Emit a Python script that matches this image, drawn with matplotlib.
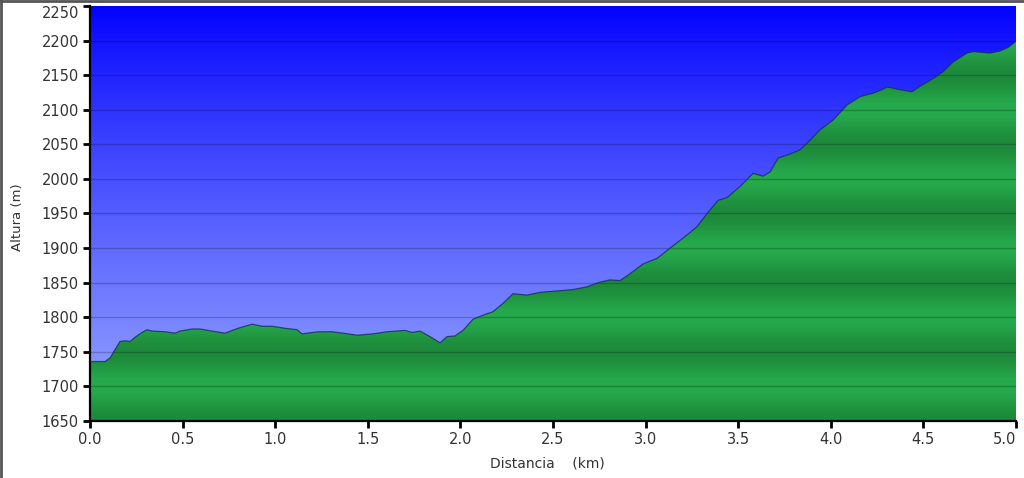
import numpy as np
import matplotlib
matplotlib.use("Agg")
import matplotlib.pyplot as plt
from matplotlib.lines import Line2D

# elevation profile
dist_km = [0.00, 0.081, 0.108, 0.135, 0.162, 0.189, 0.216, 0.243, 0.281, 0.308,
           0.335, 0.405, 0.459, 0.486, 0.551, 0.594, 0.659, 0.729, 0.799, 0.875,
           0.929, 0.983, 1.053, 1.118, 1.145, 1.231, 1.307, 1.366, 1.442, 1.528,
           1.604, 1.701, 1.739, 1.782, 1.836, 1.890, 1.928, 1.971, 2.014, 2.068,
           2.122, 2.176, 2.230, 2.284, 2.360, 2.430, 2.522, 2.608, 2.684, 2.743,
           2.808, 2.862, 2.916, 2.986, 3.062, 3.132, 3.224, 3.278, 3.332, 3.391,
           3.440, 3.510, 3.580, 3.634, 3.672, 3.715, 3.780, 3.834, 3.888, 3.942,
           4.012, 4.088, 4.158, 4.228, 4.276, 4.304, 4.374, 4.438, 4.482, 4.552,
           4.606, 4.660, 4.736, 4.768, 4.860, 4.914, 4.957, 5.00]
alt_m = [1736, 1736, 1741, 1753, 1765, 1766, 1765, 1771, 1778, 1782,
         1780, 1779, 1777, 1780, 1783, 1783, 1780, 1777, 1784, 1790,
         1787, 1787, 1784, 1782, 1776, 1779, 1779, 1777, 1774, 1776,
         1779, 1781, 1778, 1780, 1772, 1763, 1772, 1773, 1781, 1797,
         1803, 1808, 1820, 1834, 1832, 1836, 1838, 1840, 1844, 1850,
         1854, 1853, 1863, 1877, 1885, 1900, 1919, 1931, 1950, 1969,
         1973, 1989, 2008, 2004, 2010, 2030, 2036, 2042, 2056, 2071,
         2085, 2107, 2119, 2124, 2129, 2133, 2129, 2126, 2134, 2145,
         2155, 2169, 2182, 2184, 2182, 2185, 2190, 2199]

x_ticks = [0.0, 0.5, 1.0, 1.5, 2.0, 2.5, 3.0, 3.5, 4.0, 4.5, 5.0]
y_ticks = list(range(1650, 2251, 50))

xmin, xmax = 0.0, 5.0
ymin, ymax = 1650, 2250

fig = plt.figure(figsize=(10.24, 4.78), dpi=100)
ax = fig.add_axes([90 / 1024, 57 / 478, 926 / 1024, 415 / 478])

# blue sky gradient
ny = 400
t = np.linspace(0, 1, ny)[:, None]  # 0 top, 1 bottom
top = np.array([0, 0, 255]) / 255
bot = np.array([152, 168, 255]) / 255
sky = top + (bot - top) * t[..., None] ** 0.85
sky = np.repeat(sky, 2, axis=1)
ax.imshow(sky, extent=[xmin, xmax, ymin, ymax], aspect="auto", zorder=0)

# green banded fill, darker at x50 lines, lighter at x00 lines
hh = np.linspace(ymax, ymin, 1200)
m = (hh - 1650) % 100
light = 0.5 - 0.5 * np.cos(np.pi * m / 50)
dark_c = np.array([29, 138, 59]) / 255
light_c = np.array([38, 170, 76]) / 255
green = dark_c + (light_c - dark_c) * light[:, None]
green = np.repeat(green[:, None, :], 2, axis=1)
poly = ax.fill_between(dist_km, alt_m, ymin, color="none", zorder=1)
im = ax.imshow(green, extent=[xmin, xmax, ymin, ymax], aspect="auto", zorder=1)
im.set_clip_path(poly.get_paths()[0], transform=ax.transData)
ax.plot(dist_km, alt_m, color="#1c2a66", lw=0.9, alpha=0.8, zorder=3)

for y in y_ticks[1:-1]:
    ax.axhline(y, color="black", alpha=0.22, lw=1.0, zorder=2)

ax.set_xlim(xmin, xmax)
ax.set_ylim(ymin, ymax)
ax.set_xticks(x_ticks)
ax.set_xticklabels([f"{v:.1f}" for v in x_ticks])
ax.set_yticks(y_ticks)

for s in ["top", "right"]:
    ax.spines[s].set_visible(False)
for s in ["left", "bottom"]:
    ax.spines[s].set_color("black")
    ax.spines[s].set_linewidth(1.6)

ax.tick_params(axis="both", direction="out", length=5, width=2, color="black",
               labelcolor="#333333", labelsize=10.5)
ax.tick_params(axis="x", pad=3)
ax.tick_params(axis="y", pad=3)

# keep end labels inside the picture
ax.get_yticklabels()[-1].set_va("top")
ax.get_xticklabels()[-1].set_ha("right")

ax.set_xlabel("Distancia    (km)", fontsize=10, color="#333333")
ax.xaxis.set_label_coords(0.4935, -0.085)
ax.set_ylabel("Altura (m)", fontsize=9.5, color="#333333")
ax.yaxis.set_label_coords(-0.071, 0.49)

# outer frame of the screenshot
fig.add_artist(Line2D([0.001, 0.001], [0, 1], transform=fig.transFigure, color="#555555", lw=2))
fig.add_artist(Line2D([0, 1], [0.998, 0.998], transform=fig.transFigure, color="#555555", lw=2))

fig.savefig("out.png", dpi=100)
